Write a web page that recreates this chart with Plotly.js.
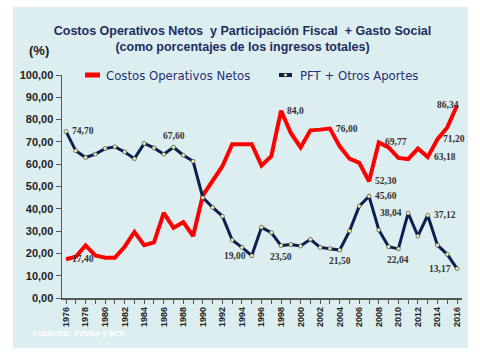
<!DOCTYPE html>
<html>
<head>
<meta charset="utf-8">
<script src="https://cdn.plot.ly/plotly-3.0.1.min.js"></script>
<style>
html,body{margin:0;padding:0;background:#fff;width:480px;height:360px;overflow:hidden;}
#chart{position:absolute;left:13px;top:7px;width:455px;height:341px;}
</style>
</head>
<body>
<div id="chart"></div>
<script>
// ---- Data ----
const years = [1976,1977,1978,1979,1980,1981,1982,1983,1984,1985,
               1986,1987,1988,1989,1990,1991,1992,1993,1994,1995,
               1996,1997,1998,1999,2000,2001,2002,2003,2004,2005,
               2006,2007,2008,2009,2010,2011,2012,2013,2014,2015,2016];
const costosOperativos = [17.4,18.5,23.6,19.1,18.1,18.1,23.0,29.6,23.7,24.9,
                          38.2,31.5,34.0,27.8,46.0,52.5,59.1,69.0,68.9,69.0,
                          59.4,63.6,84.0,74.0,67.5,75.2,75.5,76.0,68.0,62.5,
                          60.6,52.3,69.77,67.5,62.8,62.3,67.0,63.18,71.2,76.5,86.34];
const pftOtrosAportes = [74.7,66.0,63.0,64.5,67.0,67.8,65.5,62.5,69.3,67.3,
                         64.5,67.6,64.0,61.3,45.0,40.6,36.7,26.0,22.7,19.0,
                         31.7,29.3,23.5,24.0,23.3,26.3,22.7,22.2,21.5,30.0,
                         41.2,45.6,30.5,23.0,22.04,38.04,27.8,37.12,23.7,19.6,13.17];
const seriesNames = ['Costos Operativos Netos', 'PFT + Otros Aportes'];

const costosLabelYears = [1976, 1998, 2003, 2007, 2008, 2013, 2014, 2016];
const costosLabelText  = ['17,40','84,0','76,00','52,30','69,77','63,18','71,20','86,34'];
const pftLabelYears = [1976, 1987, 1995, 1998, 2004, 2007, 2010, 2011, 2013, 2016];
const pftLabelText  = ['74,70','67,60','19,00','23,50','21,50','45,60','22,04','38,04','37,12','13,17'];

// label placement (style, not data)
const costosLabelPos = ['right','right','right','right','right','right','right','over'];
const pftLabelPos = ['right','above','left','below','below','right','below','left','right','left'];

const red = '#ff0000';
const navy = '#0d1f4f';
const dotColor = '#f2eca0';
const titleColor = '#1c2d5e';
const legendColor = '#1f3070';

function makeLabels(lYears, lText, lPos, values) {
  return lYears.map((yr, i) => {
    const v = values[years.indexOf(yr)];
    const a = {x: yr, y: v, xref: 'x', yref: 'y', text: lText[i], showarrow: false,
      font: {family: 'Liberation Serif, Times New Roman, serif', size: 9.5, color: '#333', weight: 'bold'},
      xanchor: 'center', yanchor: 'middle'};
    const p = lPos[i];
    if (p === 'right') { a.xanchor = 'left'; a.xshift = 4; }
    else if (p === 'left') { a.xanchor = 'right'; a.xshift = -4; }
    else if (p === 'above') { a.yanchor = 'bottom'; a.yshift = 4; }
    else if (p === 'below') { a.yanchor = 'top'; a.yshift = -4; }
    else if (p === 'over') { a.xanchor = 'right'; a.xshift = 4; }
    return a;
  });
}

const traces = [
  {x: years, y: costosOperativos, name: seriesNames[0], type: 'scatter', mode: 'lines',
   line: {color: red, width: 4}, showlegend: false},
  {x: years, y: pftOtrosAportes, name: seriesNames[1], type: 'scatter', mode: 'lines+markers',
   line: {color: navy, width: 3},
   marker: {symbol: 'circle', size: 4, color: dotColor, line: {color: navy, width: 0.5}}, showlegend: false}
];

const legendFont = {family: 'DejaVu Sans Condensed, DejaVu Sans, sans-serif', size: 13, color: legendColor};

const annotations = [].concat(
  makeLabels(costosLabelYears, costosLabelText, costosLabelPos, costosOperativos),
  makeLabels(pftLabelYears, pftLabelText, pftLabelPos, pftOtrosAportes),
  [
    {xref: 'paper', yref: 'paper', x: 0.105, y: 1.0, text: seriesNames[0], showarrow: false,
     font: legendFont, xanchor: 'left', yanchor: 'middle'},
    {xref: 'paper', yref: 'paper', x: 0.59, y: 1.0, text: seriesNames[1], showarrow: false,
     font: legendFont, xanchor: 'left', yanchor: 'middle'},
    {xref: 'paper', yref: 'paper', x: -0.0575, y: 1.112, text: '(%)', showarrow: false,
     font: {family: 'Liberation Sans, Arial, sans-serif', size: 13, color: '#222', weight: 'bold'},
     xanchor: 'center', yanchor: 'middle'},
    {xref: 'paper', yref: 'paper', x: -0.0775, y: -0.157, text: 'FUENTES:  PDVSA y BCV.', showarrow: false,
     font: {family: 'Liberation Sans, Arial, sans-serif', size: 7.5, color: '#ffffff', weight: 'bold'},
     xanchor: 'left', yanchor: 'middle'}
  ]
);

const layout = {
  width: 455, height: 341,
  margin: {l: 49, r: 6, t: 68, b: 50, autoexpand: false},
  paper_bgcolor: '#ddeef1',
  plot_bgcolor: '#ddeef1',
  separators: ',.',
  title: {
    text: 'Costos Operativos Netos  y Participación Fiscal  + Gasto Social<br>(como porcentajes de los ingresos totales)',
    font: {family: 'Liberation Sans, Arial, sans-serif', size: 12.5, color: titleColor, weight: 'bold'},
    x: 0.5044, xref: 'container', xanchor: 'center',
    y: 0.9185, yref: 'container', yanchor: 'top'
  },
  showlegend: false,
  xaxis: {
    range: [1975.59, 2016.51],
    tick0: 1976, dtick: 2,
    tickangle: -90,
    ticks: 'outside', ticklen: 4, tickcolor: '#555',
    minor: {dtick: 1, ticks: 'outside', ticklen: 4, tickcolor: '#555'},
    showline: true, linecolor: '#555', linewidth: 1.5,
    showgrid: false, zeroline: false,
    tickfont: {family: 'Liberation Sans, Arial, sans-serif', size: 9, color: '#222', weight: 'bold'}
  },
  yaxis: {
    range: [0, 100], dtick: 10, tickformat: '.2f',
    ticks: 'outside', ticklen: 5, tickcolor: '#555',
    showline: true, linecolor: '#555', linewidth: 1.5,
    showgrid: false, zeroline: false,
    tickfont: {family: 'Liberation Sans, Arial, sans-serif', size: 11, color: '#222', weight: 'bold'}
  },
  shapes: [
    // legend symbols
    {type: 'line', xref: 'paper', yref: 'paper', x0: 0.0575, x1: 0.095, y0: 1.0, y1: 1.0,
     line: {color: red, width: 5}, layer: 'above'},
    {type: 'line', xref: 'paper', yref: 'paper', x0: 0.5425, x1: 0.575, y0: 1.0, y1: 1.0,
     line: {color: navy, width: 4}, layer: 'above'},
    {type: 'circle', xref: 'paper', yref: 'paper', xsizemode: 'pixel', ysizemode: 'pixel',
     xanchor: 0.55875, yanchor: 1.0, x0: -1.8, x1: 1.8, y0: -1.8, y1: 1.8,
     fillcolor: dotColor, line: {color: navy, width: 0.5}, layer: 'above'}
  ],
  annotations: annotations
};

Plotly.newPlot('chart', traces, layout, {displayModeBar: false, staticPlot: true});
</script>
</body>
</html>
